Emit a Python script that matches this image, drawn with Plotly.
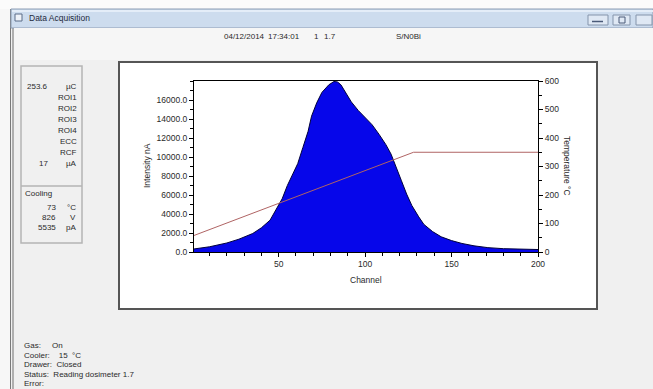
import plotly.graph_objects as go

# ---------------- data ----------------
channel = [1, 10, 20, 27, 35, 40, 45, 50, 52, 55, 58.5, 61, 64, 67, 69, 72, 75, 79, 82, 84,
           86, 89, 92, 96, 100, 104, 108, 112, 115, 118, 121, 124, 127, 131, 134, 139, 144,
           150, 156, 163, 171, 180, 190, 200]
intensity_nA = [320, 550, 950, 1350, 1950, 2550, 3350, 4900, 5600, 7000, 8300, 9300, 11000,
                12700, 14300, 15700, 16800, 17600, 17950, 17900, 17600, 16700, 15800, 14900,
                14200, 13400, 12400, 11300, 10300, 9000, 7500, 6100, 4900, 3700, 2900, 2150,
                1600, 1200, 900, 650, 460, 350, 300, 260]
temp_channel = [1, 128, 200]
temperature_C = [58, 350, 350]

x_ticks = [50, 100, 150, 200]
y_left_ticks = [0, 2000, 4000, 6000, 8000, 10000, 12000, 14000, 16000]
y_right_ticks = [0, 100, 200, 300, 400, 500, 600]

header_items = [("04/12/2014", 222), ("17:34:01", 266), ("1", 312), ("1.7", 322), ("S/N0Bi", 394)]
panel_values = [("253.6", "µC"), ("", "ROI1"), ("", "ROI2"), ("", "ROI3"), ("", "ROI4"),
                ("", "ECC"), ("", "RCF"), ("17", "µA")]
cooling_values = [("73", "°C"), ("826", "V"), ("5535", "pA")]
status_lines = ["Gas:     On", "Cooler:    15  °C", "Drawer:  Closed",
                "Status:  Reading dosimeter 1.7", "Error:"]

# ---------------- layout helpers ----------------
W, H = 653, 389
PL, PR, PT, PB = 194, 538, 81, 252  # plot area in pixels
FONT = "Liberation Sans Narrow, Liberation Sans, Arial, sans-serif"
TXT = "#2a2a2a"


def fx(x):
    return (x - PL) / (PR - PL)


def fy(y):
    return (PB - y) / (PB - PT)


shapes = []


def rect(x0, y0, x1, y1, fill=None, line=None, lw=1):
    shapes.append(dict(type="rect", xref="paper", yref="paper", layer="below",
                       x0=fx(x0), x1=fx(x1), y0=fy(y1), y1=fy(y0),
                       fillcolor=fill if fill else "rgba(0,0,0,0)",
                       line=dict(color=line if line else "rgba(0,0,0,0)", width=lw if line else 0)))


def hline(x0, x1, y, color, lw=1):
    shapes.append(dict(type="line", xref="paper", yref="paper", layer="below",
                       x0=fx(x0), x1=fx(x1), y0=fy(y), y1=fy(y), line=dict(color=color, width=lw)))


def vline(x, y0, y1, color, lw=1):
    shapes.append(dict(type="line", xref="paper", yref="paper", layer="below",
                       x0=fx(x), x1=fx(x), y0=fy(y0), y1=fy(y1), line=dict(color=color, width=lw)))


annotations = []


def text(x, y, s, anchor="left", size=8, color=TXT, angle=0):
    annotations.append(dict(xref="paper", yref="paper", x=fx(x), y=fy(y), text=s,
                            showarrow=False, xanchor=anchor, yanchor="middle",
                            textangle=angle, font=dict(family=FONT, size=size, color=color)))


# background pieces
rect(0, 0, W, 9, fill="#fbfbfb")
rect(0, 9, 10, H, fill="#f7f7f7")
vline(10.5, 9, H, "#7a7a7a", 1)
vline(13, 9, H, "#9a9a9a", 1.5)
# title bar
rect(11, 9, W, 28, fill="#cddcee", line="#8c9db4", lw=1)
hline(12, W, 11, "#e4edf8", 2)
rect(15, 14, 22, 21, fill="#eef2f8", line="#5a6c88", lw=1)
text(27, 18, "Data Acquisition", size=8.5, color="#1e2a3c")
for bx0, bx1 in [(588, 608), (613, 630), (636, 652)]:
    rect(bx0, 15, bx1, 25, fill="#dfe8f4", line="#8494ab", lw=1)
hline(592, 603, 21.5, "#4a5a78", 1.5)
rect(619, 17, 625, 23, line="#4a5a78", lw=1)
# client area top strip
rect(14, 28, W, 60, fill="#f6f6f6")

# left info panel
rect(21, 66, 82, 243, line="#b4b4b4", lw=1.5)
hline(21, 82, 186, "#b4b4b4", 1.5)

# chart box
rect(119, 62, 597, 309, fill="#ffffff", line="#555555", lw=2)

# header text
for s, x in header_items:
    text(x, 36, s)

# panel text
for i, (v, u) in enumerate(panel_values):
    y = 86 + i * 11.1
    if v:
        text(50, y, v, anchor="right")
    text(79, y, u, anchor="right")
text(23, 193, "Cooling", anchor="left")
for i, (v, u) in enumerate(cooling_values):
    y = 207 + i * 10.2
    text(58, y, v, anchor="right")
    text(78, y, u, anchor="right")

# status text
for i, s in enumerate(status_lines):
    text(22, 345.5 + i * 9.5, s)

# axis titles
text(147, 166, "Intensity nA", anchor="center", size=8.5, angle=-90)
text(366, 280, "Channel", anchor="center", size=8.5)
text(567, 166, "Temperature °C", anchor="center", size=8.5, angle=90)

# ---------------- traces ----------------
fig = go.Figure()
fig.add_trace(go.Scatter(x=channel, y=intensity_nA, mode="lines", fill="tozeroy",
                         fillcolor="#0606ea", line=dict(color="#00003c", width=1),
                         showlegend=False, hoverinfo="skip"))
fig.add_trace(go.Scatter(x=temp_channel, y=temperature_C, mode="lines", yaxis="y2",
                         line=dict(color="#b06464", width=1),
                         showlegend=False, hoverinfo="skip"))

tickfont = dict(family=FONT, size=8.5, color=TXT)
fig.update_layout(
    width=W, height=H,
    margin=dict(l=PL, r=W - PR, t=PT, b=H - PB, pad=0),
    paper_bgcolor="#f0f0f0", plot_bgcolor="#ffffff",
    shapes=shapes, annotations=annotations,
    xaxis=dict(range=[1, 200], tickvals=x_ticks, ticktext=[str(v) for v in x_ticks],
               showgrid=False, zeroline=False, showline=True, linecolor="#000000", linewidth=1,
               mirror=True, ticks="outside", ticklen=4, tickcolor="#000000", tickfont=tickfont,
               minor=dict(ticks="outside", ticklen=3, dtick=10, tick0=0, tickcolor="#000000")),
    yaxis=dict(range=[0, 18000], tickvals=y_left_ticks,
               ticktext=["%.1f" % v for v in y_left_ticks],
               showgrid=False, zeroline=False, showline=True, linecolor="#000000", linewidth=1,
               ticks="outside", ticklen=4, tickcolor="#000000", tickfont=tickfont,
               minor=dict(ticks="outside", ticklen=3, dtick=1000, tick0=0, tickcolor="#000000")),
    yaxis2=dict(range=[0, 600], tickvals=y_right_ticks, ticktext=[str(v) for v in y_right_ticks],
                overlaying="y", side="right", showgrid=False, zeroline=False, showline=True,
                linecolor="#000000", linewidth=1, ticks="outside", ticklen=4,
                tickcolor="#000000", tickfont=tickfont,
                minor=dict(ticks="outside", ticklen=3, dtick=50, tick0=0, tickcolor="#000000")),
)

fig.write_html("out.html", config={"displayModeBar": False, "staticPlot": True},
               post_script="document.body.style.margin='0';document.body.style.overflow='hidden';")
